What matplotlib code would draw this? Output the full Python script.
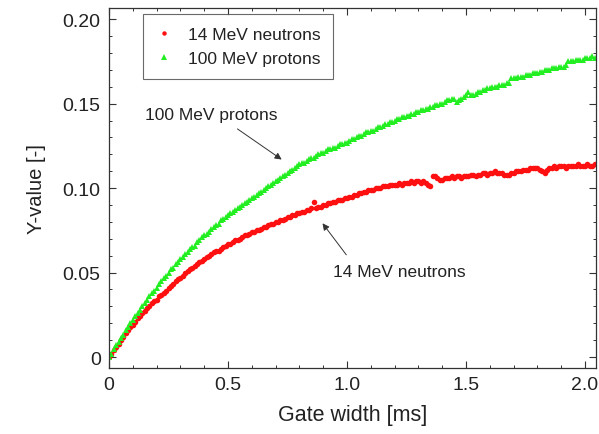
import numpy as np
import matplotlib
matplotlib.use('Agg')
import matplotlib.pyplot as plt
from matplotlib.ticker import MultipleLocator

plt.rcParams['font.family'] = ['Liberation Sans', 'DejaVu Sans']

# gate width grid [ms]
gate = np.round(np.arange(0, 2.045, 0.01), 2)

# 100 MeV protons
y_protons = [
    0.000, 0.002, 0.005, 0.007, 0.009, 0.011, 0.013, 0.016, 0.018, 0.020,
    0.022, 0.024, 0.026, 0.028, 0.030, 0.032, 0.034, 0.036, 0.038, 0.039,
    0.041, 0.043, 0.045, 0.047, 0.048, 0.050, 0.052, 0.053, 0.055, 0.056,
    0.058, 0.059, 0.061, 0.062, 0.064, 0.065, 0.066, 0.068, 0.069, 0.071,
    0.072, 0.073, 0.074, 0.076, 0.077, 0.078, 0.079, 0.081, 0.082, 0.083,
    0.084, 0.085, 0.086, 0.087, 0.088, 0.089, 0.090, 0.091, 0.092, 0.093,
    0.094, 0.095, 0.096, 0.097, 0.098, 0.099, 0.100, 0.101, 0.102, 0.103,
    0.104, 0.105, 0.106, 0.107, 0.108, 0.109, 0.110, 0.111, 0.112, 0.113,
    0.114, 0.115, 0.115, 0.116, 0.117, 0.118, 0.118, 0.119, 0.120, 0.121,
    0.121, 0.122, 0.123, 0.123, 0.124, 0.124, 0.125, 0.126, 0.126, 0.127,
    0.127, 0.128, 0.129, 0.129, 0.130, 0.131, 0.131, 0.132, 0.133, 0.133,
    0.134, 0.134, 0.135, 0.136, 0.136, 0.137, 0.138, 0.138, 0.139, 0.139,
    0.140, 0.141, 0.141, 0.142, 0.142, 0.143, 0.143, 0.144, 0.144, 0.145,
    0.145, 0.146, 0.146, 0.147, 0.147, 0.148, 0.148, 0.149, 0.149, 0.150,
    0.150, 0.151, 0.152, 0.152, 0.153, 0.153, 0.151, 0.152, 0.153, 0.154,
    0.155, 0.157, 0.155, 0.155, 0.156, 0.157, 0.157, 0.158, 0.158, 0.159,
    0.159, 0.160, 0.160, 0.160, 0.161, 0.161, 0.161, 0.162, 0.162, 0.165,
    0.165, 0.165, 0.166, 0.166, 0.166, 0.167, 0.167, 0.167, 0.168, 0.168,
    0.168, 0.169, 0.169, 0.170, 0.170, 0.170, 0.171, 0.171, 0.171, 0.172,
    0.172, 0.172, 0.173, 0.175, 0.175, 0.175, 0.176, 0.176, 0.176, 0.176,
    0.177, 0.177, 0.177, 0.178, 0.177,
]

# 14 MeV neutrons
y_neutrons = [
    0.000, 0.002, 0.004, 0.006, 0.008, 0.010, 0.012, 0.014, 0.016, 0.018,
    0.019, 0.021, 0.023, 0.024, 0.026, 0.027, 0.029, 0.030, 0.032, 0.033,
    0.034, 0.036, 0.037, 0.038, 0.039, 0.041, 0.042, 0.043, 0.045, 0.046,
    0.047, 0.048, 0.050, 0.051, 0.052, 0.053, 0.054, 0.055, 0.056, 0.057,
    0.058, 0.059, 0.060, 0.061, 0.062, 0.063, 0.063, 0.064, 0.065, 0.066,
    0.067, 0.067, 0.068, 0.069, 0.069, 0.070, 0.071, 0.072, 0.072, 0.073,
    0.074, 0.074, 0.075, 0.075, 0.076, 0.077, 0.077, 0.078, 0.079, 0.079,
    0.080, 0.080, 0.081, 0.081, 0.082, 0.083, 0.083, 0.084, 0.084, 0.085,
    0.085, 0.086, 0.086, 0.087, 0.087, 0.088, 0.092, 0.088, 0.089, 0.089,
    0.090, 0.090, 0.091, 0.091, 0.092, 0.092, 0.093, 0.093, 0.093, 0.094,
    0.094, 0.095, 0.095, 0.096, 0.096, 0.097, 0.097, 0.098, 0.098, 0.099,
    0.099, 0.099, 0.100, 0.100, 0.100, 0.101, 0.101, 0.101, 0.102, 0.102,
    0.102, 0.102, 0.103, 0.102, 0.103, 0.103, 0.103, 0.104, 0.103, 0.104,
    0.104, 0.103, 0.104, 0.103, 0.102, 0.101, 0.107, 0.107, 0.106, 0.105,
    0.105, 0.106, 0.106, 0.106, 0.107, 0.106, 0.107, 0.107, 0.106, 0.107,
    0.107, 0.107, 0.108, 0.108, 0.107, 0.108, 0.108, 0.109, 0.109, 0.108,
    0.109, 0.109, 0.110, 0.109, 0.109, 0.109, 0.108, 0.108, 0.108, 0.109,
    0.109, 0.110, 0.110, 0.110, 0.111, 0.111, 0.111, 0.112, 0.112, 0.112,
    0.112, 0.111, 0.110, 0.109, 0.111, 0.112, 0.112, 0.113, 0.112, 0.113,
    0.113, 0.113, 0.112, 0.113, 0.113, 0.113, 0.113, 0.114, 0.113, 0.113,
    0.113, 0.114, 0.113, 0.113, 0.114,
]

txt = '#222222'

fig = plt.figure(figsize=(5.99, 4.35), dpi=100)
ax = fig.add_axes([0.182, 0.1517, 0.813, 0.827])

ax.plot(gate, y_neutrons, 'o', color='#ff1010', ms=4.0, mew=0, label='14 MeV neutrons')
ax.plot(gate, y_protons, '^', color='#22ee22', ms=4.6, mew=0, label='100 MeV protons')

ax.set_xlim(0, 2.046)
ax.set_ylim(-0.0065, 0.2065)

ax.xaxis.set_major_locator(MultipleLocator(0.5))
ax.xaxis.set_minor_locator(MultipleLocator(0.1))
ax.yaxis.set_major_locator(MultipleLocator(0.05))
ax.yaxis.set_minor_locator(MultipleLocator(0.01))
ax.set_xticks([0, 0.5, 1.0, 1.5, 2.0], ['0', '0.5', '1.0', '1.5', '2.0'])
ax.set_yticks([0, 0.05, 0.10, 0.15, 0.20], ['0', '0.05', '0.10', '0.15', '0.20'])

ax.tick_params(which='both', direction='in', top=True, right=True,
               labelsize=14, labelcolor=txt, color='#333333')
ax.tick_params(which='major', length=5, width=0.8, pad=6)
ax.tick_params(which='minor', length=2.5, width=0.7)
for s in ax.spines.values():
    s.set_linewidth(0.9)
    s.set_color('#333333')

ax.set_xlabel('Gate width [ms]', fontsize=15.5, color=txt, labelpad=8)
ax.set_ylabel('Y-value [-]', fontsize=14.5, color=txt, labelpad=12)

leg = ax.legend(loc='upper left', bbox_to_anchor=(0.070, 0.983), borderaxespad=0,
                fontsize=12.5, frameon=True, fancybox=False, edgecolor='#444444',
                handletextpad=0.9, handlelength=1.0, borderpad=0.7,
                labelspacing=0.55, markerscale=0.8)
leg.get_frame().set_linewidth(0.8)
for t in leg.get_texts():
    t.set_color(txt)

# annotations
arrow = dict(arrowstyle='-|>', color='#333333', lw=0.7, mutation_scale=10)
ax.text(0.151, 0.1438, '100 MeV protons', fontsize=12.5, color=txt, va='center')
ax.annotate('', xy=(0.735, 0.116), xytext=(0.53, 0.136), arrowprops=arrow)
ax.text(0.941, 0.0509, '14 MeV neutrons', fontsize=12.5, color=txt, va='center')
ax.annotate('', xy=(0.89, 0.0805), xytext=(1.004, 0.0592), arrowprops=arrow)

fig.savefig('out.png', dpi=100)
